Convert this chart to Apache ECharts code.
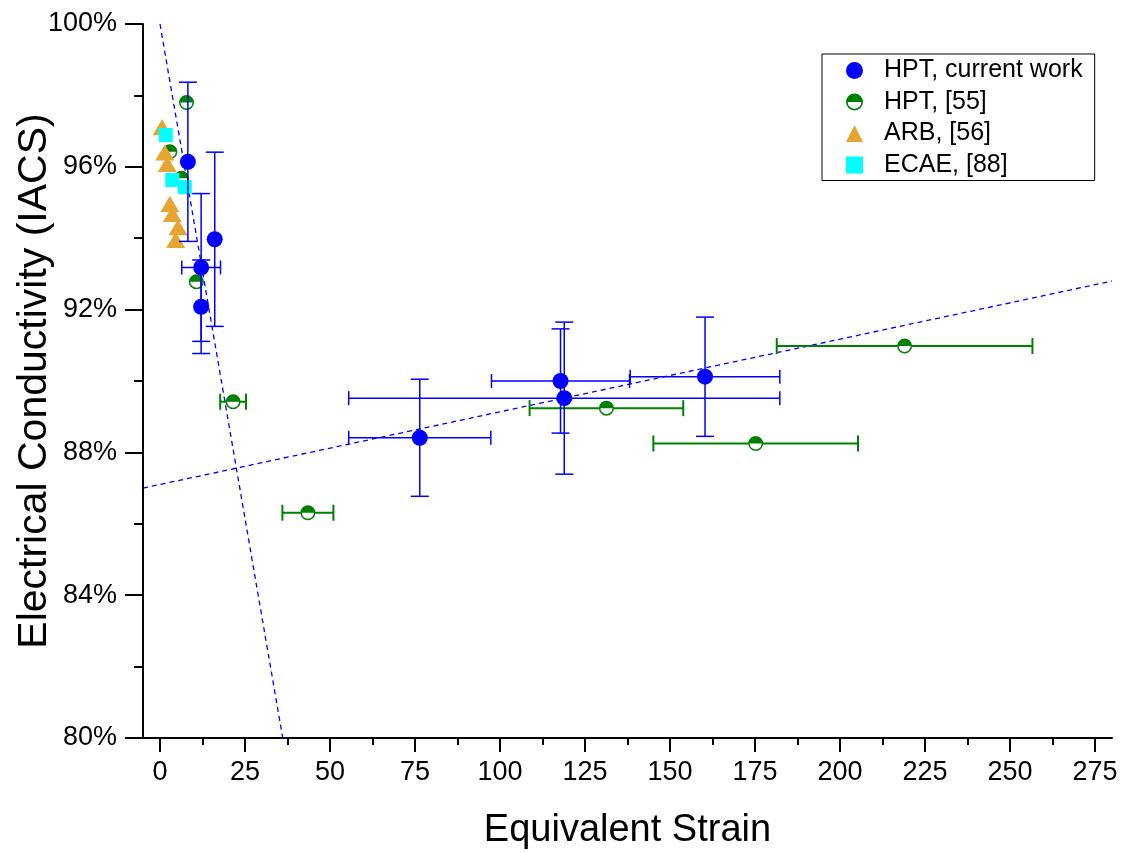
<!DOCTYPE html>
<html><head><meta charset="utf-8">
<script src="https://cdn.jsdelivr.net/npm/echarts@6/dist/echarts.min.js"></script>
<style>html,body{margin:0;padding:0;background:#fff}#c{width:1127px;height:853px}</style>
</head><body><div id="c"></div>
<script>
// ---- data ----
const hptX    = [8.2, 16.1, 12.1, 12.1, 76.4, 117.8, 118.9, 160.3];
const hptY    = [96.14, 93.97, 93.18, 92.08, 88.41, 90.00, 89.52, 90.12];
const hptXErr = [0, 0, 5.7, 0, 20.9, 20.3, 63.4, 22.0];
const hptYErr = [2.23, 2.44, 2.07, 1.31, 1.64, 1.46, 2.13, 1.67];

const hpt55X    = [7.8, 2.9, 6.3, 10.7, 21.5, 43.5, 131.3, 175.2, 219.0];
const hpt55Y    = [97.80, 96.42, 95.68, 92.78, 89.42, 86.31, 89.24, 88.25, 90.98];
const hpt55XErr = [0, 0, 0, 0, 3.8, 7.5, 22.6, 30.1, 37.6];

const arbX = [0.6, 1.4, 2.1, 2.9, 3.6, 5.3, 4.6];
const arbY = [97.11, 96.40, 96.08, 94.96, 94.68, 94.31, 93.95];

const ecaeX = [1.7, 3.6, 7.3];
const ecaeY = [96.89, 95.63, 95.43];

const fitSteepX = [0, 36.1];
const fitSteepY = [100, 80];
const fitFlatX = [-5, 280];
const fitFlatY = [87.0, 92.8];

const xMajorTicks = [0, 25, 50, 75, 100, 125, 150, 175, 200, 225, 250, 275];
const xMinorTicks = [12.5, 37.5, 62.5, 87.5, 112.5, 137.5, 162.5, 187.5, 212.5, 237.5, 262.5];

const seriesNames = ['HPT, current work', 'HPT, [55]', 'ARB, [56]', 'ECAE, [88]'];

// ---- helpers ----
const zip = (xs, ys, ...rest) => xs.map((x, i) => [x, ys[i], ...rest.map(r => r[i])]);
const HALF = 'path://M0,50A50,50 0 0 1 100,50Z M0,50A50,50 0 0 0 100,50L90,50A40,40 0 0 1 10,50Z';
const BLUE = '#0000FF', GREEN = '#008000', ORANGE = '#E6A532', CYAN = '#00FFFF';

function errBars(color, lw, capV, capH) {
  return function (params, api) {
    const x = api.value(0), y = api.value(1), xe = api.value(2), ye = api.value(3);
    const style = { stroke: color, lineWidth: lw, fill: null };
    const ch = [];
    const ln = (a, b, c, d) => ch.push({ type: 'line', shape: { x1: a, y1: b, x2: c, y2: d }, style });
    if (ye > 0) {
      const t = api.coord([x, y + ye]), b = api.coord([x, y - ye]);
      ln(t[0], t[1], b[0], b[1]);
      ln(t[0] - capV, t[1], t[0] + capV, t[1]);
      ln(b[0] - capV, b[1], b[0] + capV, b[1]);
    }
    if (xe > 0) {
      const l = api.coord([x - xe, y]), r = api.coord([x + xe, y]);
      ln(l[0], l[1], r[0], r[1]);
      ln(l[0], l[1] - capH, l[0], l[1] + capH);
      ln(r[0], r[1] - capH, r[0], r[1] + capH);
    }
    return { type: 'group', children: ch };
  };
}

const FONT = 'Liberation Sans, Arial, sans-serif';
const chart = echarts.init(document.getElementById('c'), null, { renderer: 'canvas' });

chart.setOption({
  animation: false,
  backgroundColor: '#fff',
  textStyle: { fontFamily: FONT },
  grid: { left: 143, right: 15, top: 24, bottom: 115, containLabel: false, outerBoundsMode: 'none' },
  legend: {
    orient: 'vertical',
    left: 822, top: 54,
    padding: [4, 12, 3, 24],
    borderColor: '#000', borderWidth: 1,
    itemWidth: 17, itemHeight: 17, itemGap: 6.5,
    selectedMode: false,
    textStyle: { fontSize: 25, color: '#000', fontFamily: FONT, lineHeight: 24, padding: [0, 0, 0, 16] },
    data: [
      { name: seriesNames[0], icon: 'circle', itemStyle: { color: BLUE, opacity: 1 } },
      { name: seriesNames[1], icon: HALF, itemStyle: { color: GREEN, opacity: 1 } },
      { name: seriesNames[2], icon: 'triangle', itemStyle: { color: ORANGE, opacity: 1 } },
      { name: seriesNames[3], icon: 'rect', itemStyle: { color: CYAN, opacity: 1 } }
    ]
  },
  xAxis: [{
    type: 'value', min: -5, max: 280, position: 'bottom',
    name: 'Equivalent Strain', nameLocation: 'middle', nameGap: 74, nameMoveOverlap: false,
    nameTextStyle: { fontSize: 38, color: '#000', fontFamily: FONT },
    axisLine: { show: true, onZero: false, lineStyle: { color: '#000', width: 2 } },
    axisTick: { show: true, customValues: xMajorTicks, length: 14, lineStyle: { color: '#000', width: 2 } },
    axisLabel: { show: true, customValues: xMajorTicks, fontSize: 27, color: '#000', margin: 21, fontFamily: FONT },
    splitLine: { show: false }
  }, {
    type: 'value', min: -5, max: 280, position: 'bottom',
    axisLine: { show: false, onZero: false },
    axisTick: { show: true, customValues: xMinorTicks, length: 7, lineStyle: { color: '#000', width: 2 } },
    axisLabel: { show: false },
    splitLine: { show: false }
  }],
  yAxis: {
    type: 'value', min: 80, max: 100, interval: 4,
    name: 'Electrical Conductivity (IACS)', nameLocation: 'middle', nameGap: 88, nameMoveOverlap: false,
    nameTextStyle: { fontSize: 41, color: '#000', fontFamily: FONT },
    axisLine: { show: true, onZero: false, lineStyle: { color: '#000', width: 2 } },
    axisTick: { show: true, length: 18, lineStyle: { color: '#000', width: 2 } },
    minorTick: { show: true, splitNumber: 2, length: 9, lineStyle: { color: '#000', width: 2 } },
    axisLabel: { formatter: '{value}%', fontSize: 27, color: '#000', margin: 26, fontFamily: FONT },
    splitLine: { show: false }, minorSplitLine: { show: false }
  },
  series: [
    { type: 'line', data: zip(fitFlatX, fitFlatY), symbol: 'none', z: 1,
      lineStyle: { color: BLUE, width: 1.3, type: [5, 4] }, silent: true },
    { type: 'line', data: zip(fitSteepX, fitSteepY), symbol: 'none', z: 1,
      lineStyle: { color: BLUE, width: 1.3, type: [5, 4] }, silent: true },
    { type: 'custom', z: 2, renderItem: errBars(GREEN, 2, 8, 8),
      data: zip(hpt55X, hpt55Y, hpt55XErr, hpt55X.map(() => 0)), encode: { x: 0, y: 1 } },
    { type: 'scatter', z: 3, symbol: 'circle', symbolSize: 14,
      itemStyle: { color: '#fff', opacity: 1 }, data: zip(hpt55X, hpt55Y) },
    { type: 'scatter', name: seriesNames[1], z: 4, symbol: HALF, symbolSize: 15,
      itemStyle: { color: GREEN, opacity: 1 }, data: zip(hpt55X, hpt55Y) },
    { type: 'scatter', name: seriesNames[2], z: 5, symbol: 'triangle', symbolSize: [19, 16],
      itemStyle: { color: ORANGE, opacity: 1 }, data: zip(arbX, arbY) },
    { type: 'scatter', name: seriesNames[3], z: 6, symbol: 'rect', symbolSize: 14,
      itemStyle: { color: CYAN, opacity: 1 }, data: zip(ecaeX, ecaeY) },
    { type: 'custom', z: 7, renderItem: errBars(BLUE, 1.5, 9, 7),
      data: zip(hptX, hptY, hptXErr, hptYErr), encode: { x: 0, y: 1 } },
    { type: 'scatter', name: seriesNames[0], z: 8, symbol: 'circle', symbolSize: 16,
      itemStyle: { color: BLUE, opacity: 1 }, data: zip(hptX, hptY) }
  ]
});
</script>
</body></html>
